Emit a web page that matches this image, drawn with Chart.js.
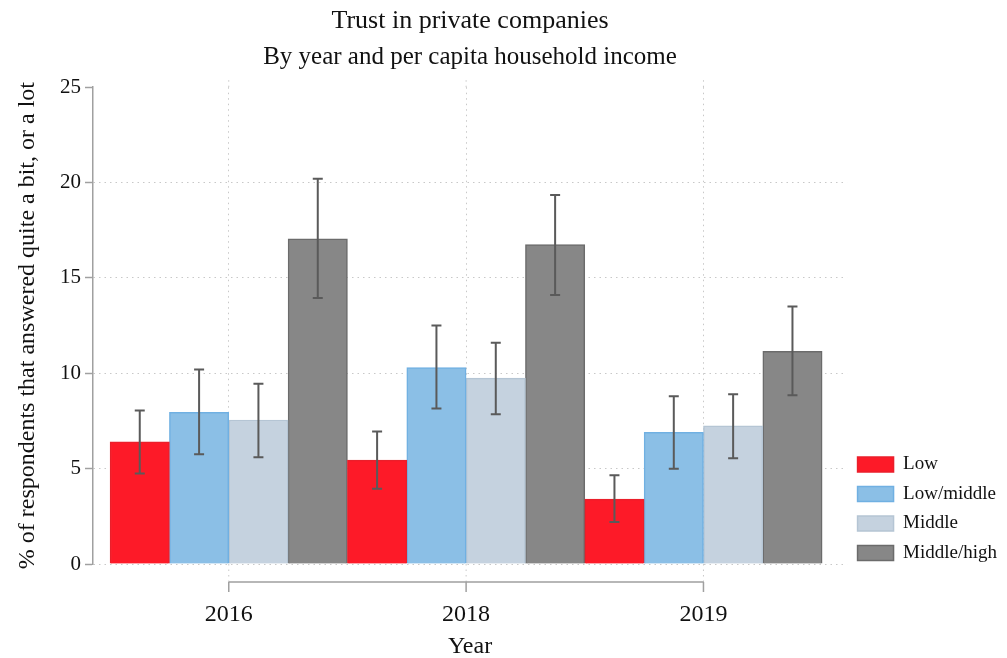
<!DOCTYPE html>
<html><head><meta charset="utf-8">
<script src="https://cdn.jsdelivr.net/npm/chart.js@4.4.1/dist/chart.umd.min.js"></script>
<style>html,body{margin:0;padding:0;background:#fff;}#wrap{width:1007px;height:658px;}</style>
</head><body><div id="wrap"><canvas id="c" width="1007" height="658"></canvas></div>
<script>
// ---- data ----
const years = ['2016', '2018', '2019'];
const seriesNames = ['Low', 'Low/middle', 'Middle', 'Middle/high'];
const low        = [6.4, 5.45, 3.4];
const lowMiddle  = [7.95, 10.3, 6.9];
const middle     = [7.55, 9.75, 7.25];
const middleHigh = [17.05, 16.75, 11.15];
const lowLo        = [4.75, 3.95, 2.2];
const lowHi        = [8.05, 6.95, 4.65];
const lowMiddleLo  = [5.75, 8.15, 5.0];
const lowMiddleHi  = [10.2, 12.5, 8.8];
const middleLo     = [5.6, 7.85, 5.55];
const middleHi     = [9.45, 11.6, 8.9];
const middleHighLo = [13.95, 14.1, 8.85];
const middleHighHi = [20.2, 19.35, 13.5];
const yTickValues = [0, 5, 10, 15, 20, 25];

const FONT = "'Liberation Serif', 'Times New Roman', serif";
const TXT = '#111111';

function mk(label, vals, lo, hi, bg, bd) {
  return {
    label: label,
    data: vals.map((v, i) => ({x: i, y: v})),
    errLo: lo, errHi: hi,
    backgroundColor: bg, borderColor: bd, borderWidth: 1.5
  };
}

const errorBars = {
  id: 'errorBars',
  afterDatasetsDraw(chart) {
    const ctx = chart.ctx, ys = chart.scales.y;
    ctx.save();
    ctx.strokeStyle = '#5a5a5a';
    ctx.lineWidth = 2;
    chart.data.datasets.forEach((ds, di) => {
      const meta = chart.getDatasetMeta(di);
      meta.data.forEach((el, j) => {
        const x = el.x;
        const y1 = ys.getPixelForValue(ds.errLo[j]);
        const y2 = ys.getPixelForValue(ds.errHi[j]);
        ctx.beginPath();
        ctx.moveTo(x, y1); ctx.lineTo(x, y2);
        ctx.moveTo(x - 5, y1); ctx.lineTo(x + 5, y1);
        ctx.moveTo(x - 5, y2); ctx.lineTo(x + 5, y2);
        ctx.stroke();
      });
    });
    ctx.restore();
  }
};

const xBracket = {
  id: 'xBracket',
  afterDraw(chart) {
    const ctx = chart.ctx, xs = chart.scales.x, a = chart.chartArea;
    const yb = a.bottom + 18;
    const px = xs.ticks.map(t => xs.getPixelForValue(t.value));
    ctx.save();
    ctx.strokeStyle = '#c8c8c8'; ctx.lineWidth = 1; ctx.setLineDash([1.5, 4]);
    px.forEach(p => {
      ctx.beginPath(); ctx.moveTo(p, a.bottom); ctx.lineTo(p, yb); ctx.stroke();
      ctx.beginPath(); ctx.moveTo(p, a.top); ctx.lineTo(p, a.top - 9); ctx.stroke();
    });
    ctx.setLineDash([]);
    ctx.strokeStyle = '#a0a0a0'; ctx.lineWidth = 1.5;
    ctx.beginPath();
    ctx.moveTo(px[0], yb); ctx.lineTo(px[px.length - 1], yb);
    px.forEach(p => { ctx.moveTo(p, yb); ctx.lineTo(p, yb + 10); });
    ctx.stroke();
    ctx.restore();
  }
};

const legendShift = {
  id: 'legendShift',
  afterLayout(chart) {
    if (chart.legend) { chart.legend.top += 9; chart.legend.bottom += 9; }
  }
};

new Chart(document.getElementById('c'), {
  type: 'bar',
  data: {
    datasets: [
      mk(seriesNames[0], low, lowLo, lowHi, '#fd1a28', '#ea1f2b'),
      mk(seriesNames[1], lowMiddle, lowMiddleLo, lowMiddleHi, '#8bbfe6', '#70b0e2'),
      mk(seriesNames[2], middle, middleLo, middleHi, '#c5d2df', '#b5c5d4'),
      mk(seriesNames[3], middleHigh, middleHighLo, middleHighHi, '#878787', '#6b6b6b')
    ]
  },
  options: {
    responsive: false,
    animation: false,
    devicePixelRatio: 1,
    layout: {padding: {top: 6, left: 0, right: 0, bottom: 0}},
    datasets: {bar: {categoryPercentage: 1, barPercentage: 1}},
    plugins: {
      title: {display: true, text: 'Trust in private companies', color: TXT, fullSize: false,
        font: {family: FONT, size: 26, weight: 'normal'}, padding: {top: 0, bottom: 0}},
      subtitle: {display: true, text: 'By year and per capita household income', color: TXT, fullSize: false,
        font: {family: FONT, size: 25, weight: 'normal'}, padding: {top: 5, bottom: 15}},
      legend: {position: 'right', align: 'end', fullSize: false,
        labels: {boxWidth: 36, boxHeight: 15, padding: 10.5, color: TXT, font: {family: FONT, size: 19}}},
      tooltip: {enabled: false}
    },
    scales: {
      x: {
        type: 'linear', min: -0.572, max: 2.605, offset: false,
        afterBuildTicks: s => { s.ticks = years.map((_, i) => ({value: i})); },
        afterFit: s => { s.height = 94; },
        ticks: {callback: v => years[v], padding: 36.5, autoSkip: false, maxRotation: 0,
          color: TXT, font: {family: FONT, size: 24}},
        grid: {offset: false, color: '#c8c8c8', lineWidth: 1, drawTicks: false},
        border: {display: false, dash: [1.5, 4]},
        title: {display: true, text: 'Year', color: TXT, font: {family: FONT, size: 24, lineHeight: 0.9},
          padding: {top: 6, bottom: 0}}
      },
      y: {
        min: 0, max: 25,
        afterBuildTicks: s => { s.ticks = yTickValues.map(v => ({value: v})); },
        afterFit: s => { s.width = 93; },
        ticks: {padding: 4, color: TXT, font: {family: FONT, size: 21}},
        grid: {color: c => (c.tick && c.tick.value === 25) ? 'rgba(0,0,0,0)' : '#c8c8c8',
          lineWidth: 1, tickColor: '#a0a0a0', tickLength: 8, tickWidth: 1.5},
        border: {display: true, color: '#a0a0a0', width: 1.5, dash: [1.5, 4]},
        title: {display: true, text: '% of respondents that answered quite a bit, or a lot', color: TXT,
          font: {family: FONT, size: 24}, padding: {top: 13.6, bottom: 0}}
      }
    }
  },
  plugins: [errorBars, xBracket, legendShift]
});
</script>
</body></html>
